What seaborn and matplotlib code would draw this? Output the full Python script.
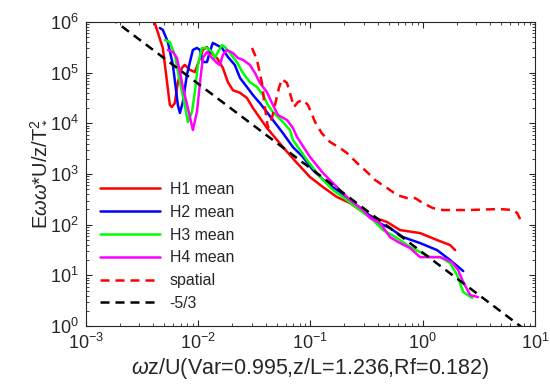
import numpy as np
import pandas as pd
import matplotlib
matplotlib.use("Agg")
import matplotlib.pyplot as plt
from matplotlib.ticker import LogLocator, NullFormatter
import seaborn as sns

# Normalised frequency spectra, four heights plus the spatial estimate
h1_x = [0.0040, 0.00485, 0.0056, 0.00583, 0.0062, 0.0066, 0.00716, 0.0076, 0.00845, 0.00936,
        0.0104, 0.0110, 0.0120, 0.0127, 0.0147, 0.0166, 0.0184, 0.0204, 0.0236, 0.0272,
        0.0308, 0.0355, 0.041, 0.0569, 0.0758, 0.099, 0.129, 0.172, 0.225, 0.276,
        0.36, 0.481, 0.627, 0.945, 1.34, 1.75, 1.94]
h1_y = [1.15e6, 3.07e5, 2.3e4, 2.1e4, 2.5e4, 6.5e4, 1.24e5, 1.42e5, 1.13e5, 1.03e5,
        1.95e5, 2.8e5, 3.2e5, 2.56e5, 1.95e5, 1.24e5, 6.5e4, 4.5e4, 4.0e4, 3.16e4,
        2.0e4, 1.27e4, 8.1e3, 3.4e3, 1.65e3, 873, 555, 352, 268, 195,
        142, 113, 78.5, 68.5, 49.9, 39.7, 31.6]

h2_x = [0.00456, 0.00485, 0.00538, 0.00596, 0.0066, 0.00688, 0.00731, 0.00794, 0.00845, 0.00898,
        0.00975, 0.0104, 0.0110, 0.0120, 0.0127, 0.0135, 0.0147, 0.0163, 0.0184, 0.0212,
        0.0236, 0.0272, 0.0308, 0.0355, 0.0409, 0.0463, 0.0569, 0.0698, 0.0857, 0.105,
        0.140, 0.183, 0.225, 0.294, 0.391, 0.51, 0.667, 0.945, 1.34, 1.75, 2.29]
h2_y = [7.6e5, 6.96e5, 4.0e5, 1.42e5, 2.3e4, 1.6e4, 2.64e4, 9.0e4, 1.62e5, 2.8e5,
        3.07e5, 2.8e5, 1.62e5, 1.62e5, 2.56e5, 3.85e5, 3.5e5, 3.07e5, 2.04e5, 1.42e5,
        7.85e4, 5.2e4, 3.6e4, 2.5e4, 1.67e4, 1.16e4, 6.4e3, 3.4e3, 2.17e3, 1.2e3,
        665, 442, 307, 195, 113, 86, 57, 43.5, 31.6, 20.1, 12.2]

h3_x = [0.00506, 0.0056, 0.0062, 0.00688, 0.0076, 0.0081, 0.0088, 0.00936, 0.00995, 0.0108,
        0.0120, 0.0133, 0.0141, 0.0150, 0.0163, 0.0173, 0.0192, 0.0221, 0.0251, 0.0289,
        0.0334, 0.0378, 0.0418, 0.0463, 0.0569, 0.0656, 0.0698, 0.093, 0.122, 0.159,
        0.211, 0.276, 0.36, 0.443, 0.59, 0.77, 0.945, 1.16, 1.43, 1.75, 2.02, 2.29, 2.75]
h3_y = [4.4e5, 4.0e5, 2.23e5, 6.5e4, 2.3e4, 1.06e4, 1.67e4, 4.15e4, 1.42e5, 3.07e5,
        3.07e5, 2.56e5, 1.95e5, 2.56e5, 3.5e5, 3.2e5, 2.44e5, 1.62e5, 9.8e4, 6.5e4,
        5.2e4, 3.6e4, 2.3e4, 1.67e4, 1.06e4, 7.4e3, 4.7e3, 1.9e3, 873, 483,
        307, 195, 124, 78.5, 54.6, 36.3, 28.9, 23, 23, 17.5, 10.2, 4.7, 3.6]

h4_x = [0.00538, 0.00596, 0.00647, 0.00688, 0.00731, 0.0081, 0.00898, 0.00975, 0.0104, 0.0110,
        0.0120, 0.0133, 0.0147, 0.0156, 0.0166, 0.0180, 0.0204, 0.0226, 0.0251, 0.0289,
        0.0321, 0.0355, 0.0409, 0.0463, 0.0513, 0.0618, 0.0698, 0.0758, 0.099, 0.129,
        0.172, 0.225, 0.294, 0.339, 0.416, 0.51, 0.627, 0.77, 0.945, 1.16, 1.43, 1.82,
        2.06, 2.29, 2.64, 3.1]
h4_y = [2.8e5, 2.56e5, 1.95e5, 1.03e5, 5.2e4, 2.0e4, 7.4e3, 1.67e4, 6.5e4, 1.95e5,
        2.56e5, 1.95e5, 1.55e5, 1.42e5, 2.23e5, 2.8e5, 2.44e5, 1.95e5, 1.78e5, 1.42e5,
        9.8e4, 6.25e4, 4.15e4, 2.3e4, 1.46e4, 1.16e4, 8.1e3, 5.4e3, 2.17e3, 1.05e3,
        555, 307, 195, 136, 108, 57, 43.5, 34.7, 23, 23, 23, 18.3,
        12.8, 7.4, 4.1, 3.74]

spatial_x = [0.0302, 0.0334, 0.037, 0.0393, 0.0418, 0.0454, 0.0483, 0.0524, 0.0557, 0.0618,
             0.0713, 0.0774, 0.0857, 0.095, 0.11, 0.126, 0.149, 0.183, 0.211, 0.26,
             0.318, 0.376, 0.481, 0.59, 0.724, 0.853, 1.0, 1.23, 1.51, 2.48,
             4.88, 6.37, 6.92, 7.35]
spatial_y = [3.07e5, 1.78e5, 6.25e4, 2.1e4, 8.1e3, 1.27e4, 2.3e4, 4.98e4, 7.5e4, 6.25e4,
             2.1e4, 2.64e4, 2.9e4, 2.3e4, 1.06e4, 6.4e3, 4.3e3, 3.26e3, 2.6e3, 1.65e3,
             1.1e3, 762, 530, 385, 336, 336, 268, 213, 195, 195,
             204, 195, 170, 129]

# Kolmogorov -5/3 reference slope
ref_slope = -5.0 / 3.0
ref_amp = 28.0
ref_x = np.array([1e-3, 1e1])
ref_y = ref_amp * ref_x ** ref_slope

sns.set_theme(style="ticks")
plt.rcParams["font.family"] = ["Liberation Sans", "DejaVu Sans"]
plt.rcParams["mathtext.fontset"] = "custom"
plt.rcParams["mathtext.rm"] = "Liberation Sans"
plt.rcParams["mathtext.it"] = "Liberation Sans:italic"
plt.rcParams["mathtext.bf"] = "Liberation Sans:bold"
plt.rcParams["axes.unicode_minus"] = False

fig = plt.figure(figsize=(5.5, 3.92), dpi=100)
ax = fig.add_axes([0.156, 0.168, 0.817, 0.776])

series = [
    ("H1 mean", h1_x, h1_y, "#ff0000"),
    ("H2 mean", h2_x, h2_y, "#0000ff"),
    ("H3 mean", h3_x, h3_y, "#00ff00"),
    ("H4 mean", h4_x, h4_y, "#ff00ff"),
]
for name, xs, ys, col in series:
    df = pd.DataFrame({"x": xs, "y": ys})
    sns.lineplot(data=df, x="x", y="y", ax=ax, color=col, lw=1.8,
                 label=name, estimator=None, sort=False)

dash = (0, (3.6, 2.4))
sp = pd.DataFrame({"x": spatial_x, "y": spatial_y})
sns.lineplot(data=sp, x="x", y="y", ax=ax, color="#ff0000", lw=1.8,
             linestyle=dash, label="spatial", estimator=None, sort=False)
rf = pd.DataFrame({"x": ref_x, "y": ref_y})
sns.lineplot(data=rf, x="x", y="y", ax=ax, color="black", lw=1.8,
             linestyle=dash, label="-5/3", estimator=None, sort=False)

ax.set_xscale("log")
ax.set_yscale("log")
ax.set_xlim(1e-3, 1e1)
ax.set_ylim(1e0, 1e6)
ax.xaxis.set_major_locator(LogLocator(base=10, numticks=10))
ax.yaxis.set_major_locator(LogLocator(base=10, numticks=10))
ax.xaxis.set_minor_locator(LogLocator(base=10, subs=np.arange(2, 10), numticks=50))
ax.yaxis.set_minor_locator(LogLocator(base=10, subs=np.arange(2, 10), numticks=50))
ax.xaxis.set_minor_formatter(NullFormatter())
ax.yaxis.set_minor_formatter(NullFormatter())

edge = "#262626"
for s in ax.spines.values():
    s.set_visible(True)
    s.set_color(edge)
    s.set_linewidth(0.8)
ax.tick_params(which="both", direction="in", top=True, right=True, colors=edge,
               labelcolor="#262626")
ax.tick_params(which="major", length=4.5, width=0.8, labelsize=13, pad=5)
ax.tick_params(which="minor", length=2.5, width=0.6)

ax.set_xlabel(r"$\omega$z/U(Var=0.995,z/L=1.236,Rf=0.182)", fontsize=15.5,
              color="#262626", labelpad=2)
ax.set_ylabel(r"E$\omega\omega$*U/z/T$_*^2$", fontsize=14.5, color="#262626",
              labelpad=2)

leg = ax.legend(loc="lower left", bbox_to_anchor=(0.007, 0.014), frameon=False,
                fontsize=11.4, handlelength=3.8, handletextpad=0.6,
                labelspacing=0.49, borderaxespad=0.3)
for t in leg.get_texts():
    t.set_color("#262626")

fig.savefig("out.png", dpi=100)
